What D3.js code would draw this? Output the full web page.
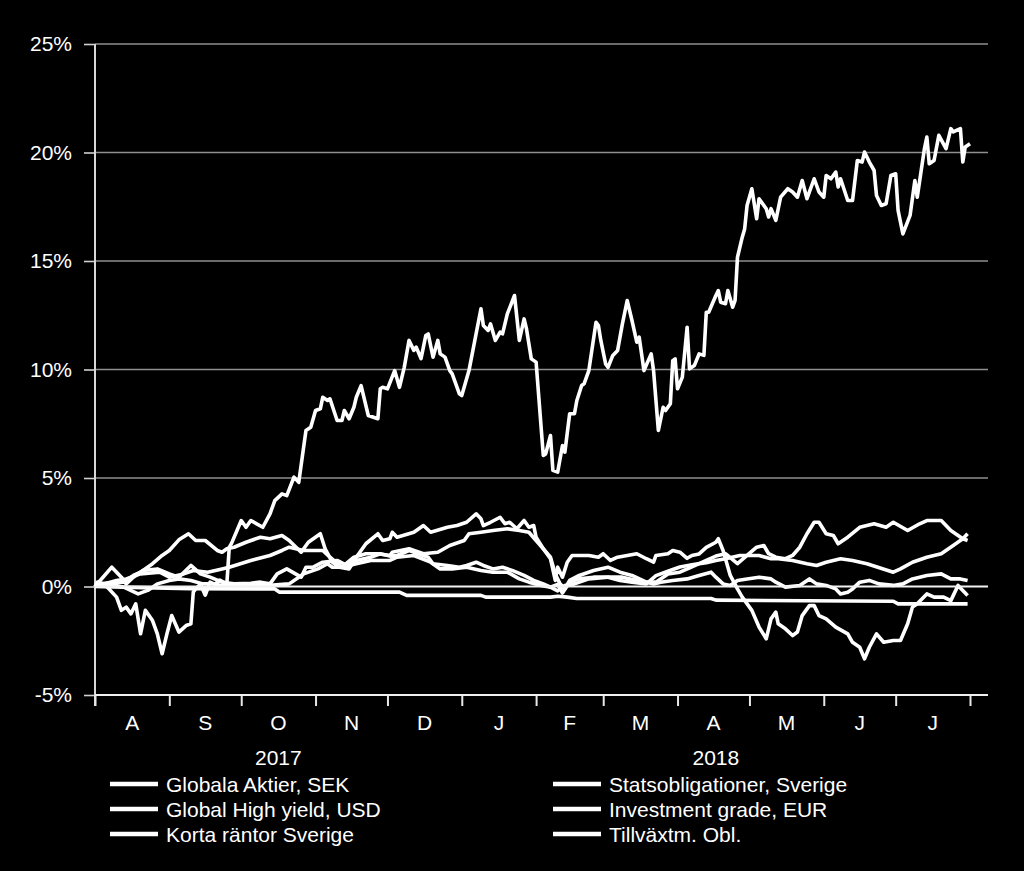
<!DOCTYPE html>
<html><head><meta charset="utf-8">
<script src="https://cdn.jsdelivr.net/npm/d3@7"></script>
<style>html,body{margin:0;background:#000;} svg{display:block;}</style>
</head><body><svg id="chart" width="1024" height="871"></svg>
<script>
// ---------- DATA ----------
const startDate = "2017-08-01";   // day 0 of every series
const endDate = "2018-08-01";
const yTicks = [-5, 0, 5, 10, 15, 20, 25];
const monthLabels = ["A","S","O","N","D","J","F","M","A","M","J","J"];
const yearLabels = ["2017", "2018"];
const seriesNames = ["Globala Aktier, SEK","Global High yield, USD","Korta räntor Sverige",
                     "Statsobligationer, Sverige","Investment grade, EUR","Tillväxtm. Obl."];

// each point: [days since startDate, return %]
const globalaAktier = [[0,0],[1,0.2],[4,0.1],[9,-0.49],[11,-1.1],[13,-0.95],[15,-1.26],[17,-0.8],[19,-2.18],[21,-1.1],[24,-1.57],[26,-2.18],[28,-3.1],[30,-2.18],[32,-1.34],[35,-2.1],[38,-1.8],[40,-1.72],[41,-0.26],[42,-0.1],[44,0.1],[46,-0.4],[48,0.2],[50,0.1],[52,0.3],[55,0.12],[56,1.8],[57,2.0],[61,3.04],[63,2.73],[65,3.04],[70,2.73],[73,3.35],[75,3.96],[78,4.27],[80,4.19],[83,5.04],[85,4.8],[88,7.19],[90,7.34],[92,8.11],[94,8.19],[95,8.72],[97,8.57],[98,8.65],[101,7.65],[103,7.65],[104,8.11],[106,7.73],[108,8.26],[109,8.72],[111,9.26],[114,7.88],[118,7.73],[119,9.11],[120,9.18],[122,9.11],[125,9.95],[127,9.18],[129,10.1],[131,11.34],[133,10.88],[134,11.03],[136,10.5],[138,11.57],[139,11.64],[141,10.57],[143,11.34],[144,10.72],[146,10.57],[148,9.95],[149,9.8],[152,8.88],[153,8.8],[156,9.95],[161,12.8],[162,12.03],[164,11.8],[165,12.1],[167,11.34],[169,11.72],[170,11.64],[172,12.56],[175,13.41],[177,11.34],[179,12.33],[180,11.87],[182,10.49],[184,10.34],[187,6.04],[188,6.11],[190,6.96],[191,5.35],[193,5.27],[195,6.5],[196,6.19],[198,7.96],[200,7.96],[201,8.57],[203,9.26],[204,9.34],[206,9.95],[209,12.18],[210,12.03],[211,11.34],[213,10.26],[214,10.1],[216,10.65],[218,10.88],[220,12.1],[222,13.18],[224,12.26],[226,11.26],[227,11.49],[229,9.95],[232,10.72],[233,9.95],[235,7.19],[237,8.26],[238,8.11],[240,8.42],[241,10.41],[242,10.49],[243,9.11],[245,9.65],[247,11.95],[248,10.03],[250,10.18],[252,10.72],[254,10.65],[255,12.64],[256,12.64],[259,13.41],[260,13.64],[261,13.1],[263,13.03],[264,13.64],[266,12.87],[267,13.18],[268,15.17],[270,16.1],[271,16.48],[272,17.56],[274,18.33],[276,16.95],[277,17.87],[280,17.41],[281,17.03],[282,17.41],[284,16.87],[286,17.94],[289,18.33],[291,18.18],[293,17.94],[295,18.71],[297,17.87],[300,18.79],[302,18.18],[304,17.94],[305,18.94],[307,18.79],[309,19.1],[310,18.41],[311,18.79],[314,17.79],[316,17.79],[318,19.63],[320,19.56],[321,20.02],[323,19.56],[325,19.17],[326,18.02],[328,17.56],[330,17.64],[332,18.94],[334,19.02],[335,17.33],[337,16.25],[340,17.1],[342,18.71],[343,17.94],[346,20.18],[347,20.71],[348,19.48],[350,19.63],[352,20.79],[355,20.18],[357,21.1],[358,20.95],[361,21.1],[362,19.56],[363,20.25],[365,20.4]];

const globalHighYield = [[0,0],[9,0.28],[13,0.35],[19,0.58],[27,0.66],[31,0.43],[37,0.58],[41,0.74],[47,0.66],[53,0.81],[56,0.89],[65,1.2],[73,1.43],[78,1.66],[81,1.81],[87,1.66],[93,1.66],[95,1.66],[98,1.35],[103,0.89],[108,1.35],[113,1.51],[118,1.51],[123,1.43],[124,1.58],[131,1.74],[137,1.51],[143,1.58],[148,1.89],[154,2.12],[156,2.43],[161,2.5],[166,2.58],[172,2.66],[177,2.58],[181,2.5],[184,2.12],[187,1.74],[190,1.35],[192,0.58],[194,0.12],[196,-0.1],[198,0.28],[202,0.51],[208,0.74],[214,0.89],[219,0.66],[224,0.51],[230,0.2],[234,0.2],[239,0.58],[244,0.66],[249,0.9],[255,1.2],[259,1.4],[263,1.51],[268,1.05],[272,1.43],[276,1.81],[279,1.89],[281,1.51],[284,1.35],[288,1.28],[291,1.43],[294,1.81],[297,2.43],[300,2.96],[302,2.96],[305,2.43],[308,2.35],[310,1.97],[314,2.27],[319,2.73],[325,2.89],[330,2.73],[333,2.96],[339,2.58],[344,2.89],[347,3.04],[353,3.04],[357,2.58],[362,2.2],[364,2.12]];

const kortaRantor = [[0,0],[20,-0.05],[40,-0.1],[75,-0.11],[77,-0.26],[127,-0.26],[130,-0.41],[161,-0.41],[163,-0.49],[190,-0.49],[193,-0.45],[197,-0.49],[201,-0.55],[257,-0.55],[259,-0.63],[333,-0.68],[335,-0.8],[364,-0.8]];

const statsobligationer = [[0,0],[1,0.05],[6,0.12],[12,-0.03],[18,-0.34],[22,-0.18],[26,0.12],[31,0.28],[35,0.35],[40,0.28],[45,0.12],[49,0.12],[53,0.05],[60,0.0],[69,0.05],[73,0.05],[81,0.12],[87,0.58],[93,0.81],[97,1.05],[99,0.89],[103,0.89],[109,1.05],[115,1.2],[123,1.2],[126,1.35],[133,1.43],[140,1.12],[144,0.81],[149,0.81],[155,0.89],[161,0.74],[166,0.66],[172,0.66],[177,0.35],[181,0.2],[186,0.05],[190,-0.03],[193,-0.2],[196,0.05],[200,0.12],[206,0.35],[214,0.43],[220,0.43],[226,0.28],[230,0.2],[233,0.12],[236,0.2],[241,0.28],[247,0.35],[252,0.51],[257,0.66],[259,0.43],[262,0.12],[265,0.05],[268,0.28],[272,0.35],[277,0.43],[282,0.35],[284,0.2],[288,-0.03],[294,0.05],[298,0.35],[301,0.12],[305,0.05],[309,-0.11],[311,-0.34],[314,-0.26],[316,-0.11],[319,0.2],[323,0.28],[327,0.12],[333,0.05],[337,0.12],[341,0.35],[347,0.51],[353,0.58],[357,0.35],[361,0.35],[364,0.28]];

const investmentGrade = [[0,0],[7,0.89],[11,0.43],[13,0.12],[16,0.43],[20,0.74],[26,0.81],[31,0.58],[35,0.43],[40,0.97],[44,0.58],[48,0.43],[53,0.2],[58,0.12],[65,0.15],[69,0.2],[73,0.12],[76,0.58],[80,0.81],[86,0.43],[88,0.89],[91,0.89],[95,1.12],[101,1.2],[105,0.97],[109,1.2],[115,1.35],[119,1.51],[123,1.4],[126,1.43],[131,1.66],[139,1.35],[141,1.05],[147,0.97],[152,0.89],[155,0.97],[159,1.12],[162,0.97],[166,0.81],[170,0.89],[174,0.74],[179,0.51],[183,0.28],[187,0.12],[190,-0.03],[193,0.1],[195,-0.3],[198,0.2],[202,0.35],[208,0.43],[214,0.43],[219,0.28],[224,0.2],[230,0.12],[234,0.5],[239,0.7],[244,0.9],[249,1.0],[255,1.1],[259,1.2],[263,1.28],[269,1.43],[277,1.43],[282,1.28],[285,1.28],[291,1.2],[297,1.05],[301,0.97],[305,1.12],[311,1.28],[316,1.2],[322,1.05],[333,0.66],[336,0.81],[341,1.12],[347,1.35],[353,1.51],[358,1.89],[362,2.2],[364,2.43]];

const tillvaxtObl = [[0,0],[1,0.12],[12,0.2],[16,0.51],[19,0.66],[24,1.05],[28,1.43],[31,1.66],[35,2.15],[39,2.43],[42,2.12],[46,2.12],[51,1.66],[53,1.58],[55,1.74],[58,1.81],[63,2.04],[69,2.27],[73,2.2],[78,2.35],[81,2.12],[86,1.58],[89,2.04],[94,2.43],[96,1.74],[99,1.12],[102,0.89],[106,0.81],[109,1.35],[113,1.97],[118,2.43],[120,2.12],[123,2.2],[124,2.5],[126,2.27],[133,2.5],[137,2.81],[140,2.5],[147,2.73],[151,2.81],[155,2.96],[159,3.35],[161,3.12],[162,2.81],[165,2.96],[169,3.19],[171,2.89],[173,2.96],[176,2.66],[179,3.04],[181,2.73],[183,2.81],[184,2.27],[187,1.74],[190,1.28],[192,0.28],[193,0.89],[195,0.43],[197,1.12],[199,1.43],[202,1.43],[206,1.43],[210,1.35],[212,1.51],[215,1.2],[218,1.35],[222,1.43],[226,1.51],[230,1.28],[233,1.12],[234,1.43],[239,1.51],[241,1.66],[244,1.58],[247,1.3],[249,1.43],[252,1.5],[255,1.8],[259,2.04],[260,2.2],[262,1.66],[265,0.51],[268,-0.11],[270,-0.49],[274,-1.1],[277,-1.87],[280,-2.41],[282,-1.49],[284,-1.18],[285,-1.72],[288,-1.95],[291,-2.26],[293,-2.1],[295,-1.34],[298,-0.88],[300,-0.88],[302,-1.34],[305,-1.49],[309,-1.87],[314,-2.18],[316,-2.57],[319,-2.8],[321,-3.33],[323,-2.8],[326,-2.18],[329,-2.57],[333,-2.49],[336,-2.49],[339,-1.72],[341,-0.95],[343,-0.8],[347,-0.34],[350,-0.49],[354,-0.49],[357,-0.65],[360,0.05],[362,-0.18],[364,-0.41]];

const seriesData = [globalaAktier, globalHighYield, kortaRantor, statsobligationer, investmentGrade, tillvaxtObl];

// ---------- LAYOUT ----------
const svg = d3.select("#chart");
const W = 1024, H = 871;
const plotLeft = 95, plotRight = 970, axisEnd = 988, plotTop = 44, plotBottom = 695;
const font = "'Liberation Sans', Arial, sans-serif";
const parse = d3.timeParse("%Y-%m-%d");
const t0 = parse(startDate), t1 = parse(endDate);

svg.append("rect").attr("width", W).attr("height", H).attr("fill", "#000");

const x = d3.scaleTime().domain([t0, t1]).range([plotLeft, plotRight]);
const y = d3.scaleLinear().domain([-5, 25]).range([plotBottom, plotTop]);

// gridlines
svg.append("g").selectAll("line").data(yTicks.filter(v => v !== -5 && v !== 0)).join("line")
  .attr("x1", plotLeft).attr("x2", axisEnd)
  .attr("y1", d => y(d)).attr("y2", d => y(d))
  .attr("stroke", "#8f8f8f").attr("stroke-width", 1.6);

// y axis
const yAxis = d3.axisLeft(y).tickValues(yTicks).tickSize(11).tickSizeOuter(0).tickPadding(12)
  .tickFormat(d => d + "%");
const gy = svg.append("g").attr("transform", `translate(${plotLeft},0)`).call(yAxis);
gy.select(".domain").remove();
gy.selectAll(".tick line").attr("stroke", "#d0d0d0").attr("stroke-width", 1.6);
gy.selectAll(".tick text").attr("fill", "#fff").style("font-family", font).style("font-size", "21px");
svg.append("line").attr("x1", plotLeft).attr("x2", plotLeft).attr("y1", plotTop).attr("y2", plotBottom + 11)
  .attr("stroke", "#d8d8d8").attr("stroke-width", 2);

// series lines
const line = d3.line()
  .x(d => x(d3.timeDay.offset(t0, d[0])))
  .y(d => y(d[1]));
svg.append("g").selectAll("path").data(seriesData).join("path")
  .attr("d", line).attr("fill", "none").attr("stroke", "#fff")
  .attr("stroke-width", 3.6).attr("stroke-linejoin", "round");

// zero line
svg.append("line").attr("x1", plotLeft).attr("x2", axisEnd).attr("y1", y(0)).attr("y2", y(0))
  .attr("stroke", "#f2f2f2").attr("stroke-width", 2);

// x axis
const months = d3.timeMonth.range(t0, d3.timeDay.offset(t1, 1));
const xAxis = d3.axisBottom(x).tickValues(months).tickSize(11).tickSizeOuter(0).tickFormat("");
const gx = svg.append("g").attr("transform", `translate(0,${plotBottom})`).call(xAxis);
gx.select(".domain").remove();
gx.selectAll(".tick line").attr("stroke", "#e8e8e8").attr("stroke-width", 2);
svg.append("line").attr("x1", plotLeft).attr("x2", axisEnd).attr("y1", plotBottom).attr("y2", plotBottom)
  .attr("stroke", "#f0f0f0").attr("stroke-width", 2);

// month labels
const monthStarts = months.slice(0, 12);
svg.append("g").selectAll("text").data(monthStarts).join("text")
  .attr("x", (d, i) => (x(d) + x(months[i + 1])) / 2)
  .attr("y", 730)
  .attr("text-anchor", "middle").attr("fill", "#fff")
  .style("font-family", font).style("font-size", "21px")
  .text((d, i) => monthLabels[i]);

// year labels
const yearSpans = [[t0, parse("2018-01-01")], [parse("2018-01-01"), t1]];
svg.append("g").selectAll("text").data(yearSpans).join("text")
  .attr("x", d => (x(d[0]) + x(d[1])) / 2)
  .attr("y", 765)
  .attr("text-anchor", "middle").attr("fill", "#fff")
  .style("font-family", font).style("font-size", "21px")
  .text((d, i) => yearLabels[i]);

// legend
const legend = svg.append("g");
seriesNames.forEach((name, i) => {
  const col = Math.floor(i / 3), row = i % 3;
  const lx = col === 0 ? 110 : 553;
  const ly = 784 + row * 25;
  legend.append("line").attr("x1", lx).attr("x2", lx + 48).attr("y1", ly).attr("y2", ly)
    .attr("stroke", "#fff").attr("stroke-width", 4.5);
  legend.append("text").attr("x", lx + 56).attr("y", ly + 7.5)
    .attr("fill", "#fff").style("font-family", font).style("font-size", "21px").text(name);
});
</script>
</body></html>
